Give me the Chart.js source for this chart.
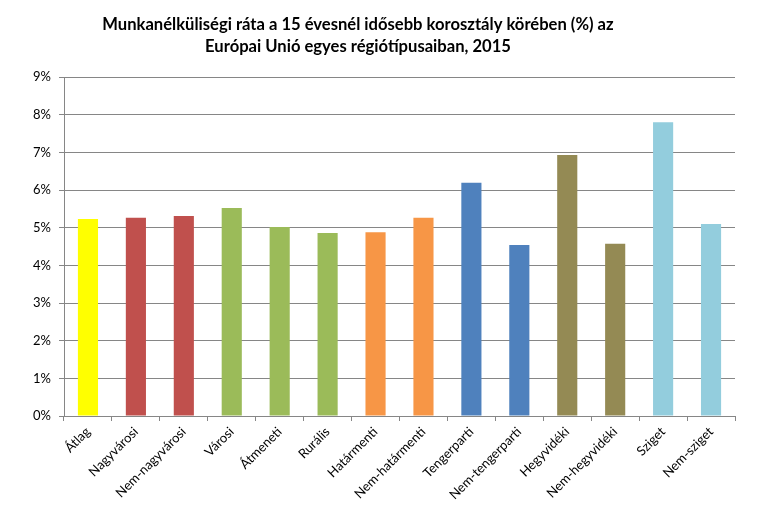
<!DOCTYPE html>
<html>
<head>
<meta charset="utf-8">
<script src="https://cdn.jsdelivr.net/npm/chart.js@4/dist/chart.umd.min.js"></script>
<style>
html,body{margin:0;padding:0;background:#fff;}
#wrap{width:761px;height:526px;}
</style>
</head>
<body>
<div id="wrap"><canvas id="c" width="761" height="526"></canvas></div>
<script>
const titleLines = ["Munkanélküliségi ráta a 15 évesnél idősebb korosztály körében (%) az", "Európai Unió egyes régiótípusaiban, 2015"];
const categories = ["Átlag","Nagyvárosi","Nem-nagyvárosi","Városi","Átmeneti","Rurális","Határmenti","Nem-határmenti","Tengerparti","Nem-tengerparti","Hegyvidéki","Nem-hegyvidéki","Sziget","Nem-sziget"];
const values = [5.23, 5.26, 5.31, 5.52, 5.02, 4.86, 4.88, 5.26, 6.19, 4.54, 6.93, 4.57, 7.80, 5.10];
const barColors = ["#FFFF00","#C0504D","#C0504D","#9BBB59","#9BBB59","#9BBB59","#F79646","#F79646","#4F81BD","#4F81BD","#948A54","#948A54","#93CDDD","#93CDDD"];
const yTicks = [0,1,2,3,4,5,6,7,8,9];

const FONT = "Lato, 'Open Sans', sans-serif";

const titlePlugin = {
  id: 'customTitle',
  afterDraw(chart) {
    const ctx = chart.ctx;
    ctx.save();
    ctx.font = "bold 16.6px " + FONT;
    ctx.fillStyle = "#000";
    ctx.textAlign = "center";
    ctx.textBaseline = "middle";
    ctx.fillText(titleLines[0], 358, 25);
    ctx.fillText(titleLines[1], 358, 47);
    ctx.restore();
  }
};

new Chart(document.getElementById('c'), {
  type: 'bar',
  data: {
    labels: categories,
    datasets: [{
      data: values,
      backgroundColor: barColors,
      borderWidth: 0,
      categoryPercentage: 1.0,
      barPercentage: 0.42
    }]
  },
  options: {
    responsive: false,
    animation: false,
    devicePixelRatio: 1,
    layout: { padding: { top: 77, right: 26, left: 0, bottom: 0 } },
    plugins: {
      legend: { display: false },
      tooltip: { enabled: false },
      title: { display: false }
    },
    scales: {
      x: {
        grid: { display: true, drawOnChartArea: false, drawTicks: true, tickLength: 5, color: '#868686', offset: true },
        border: { display: true, color: '#868686', width: 1 },
        ticks: { color: '#000', font: { family: FONT, size: 13 }, minRotation: 45, maxRotation: 45, autoSkip: false, padding: 3 },
        afterFit(scale) { scale.height = 110; }
      },
      y: {
        min: 0, max: 9,
        afterBuildTicks(scale) { scale.ticks = yTicks.map(v => ({ value: v })); },
        grid: { color: '#868686', lineWidth: 1, drawTicks: true, tickLength: 5 },
        border: { display: true, color: '#868686', width: 1 },
        ticks: { color: '#000', font: { family: FONT, size: 13 }, padding: 8, callback: v => v + '%' },
        afterFit(scale) { scale.width = 64; }
      }
    }
  },
  plugins: [titlePlugin]
});
</script>
</body>
</html>
